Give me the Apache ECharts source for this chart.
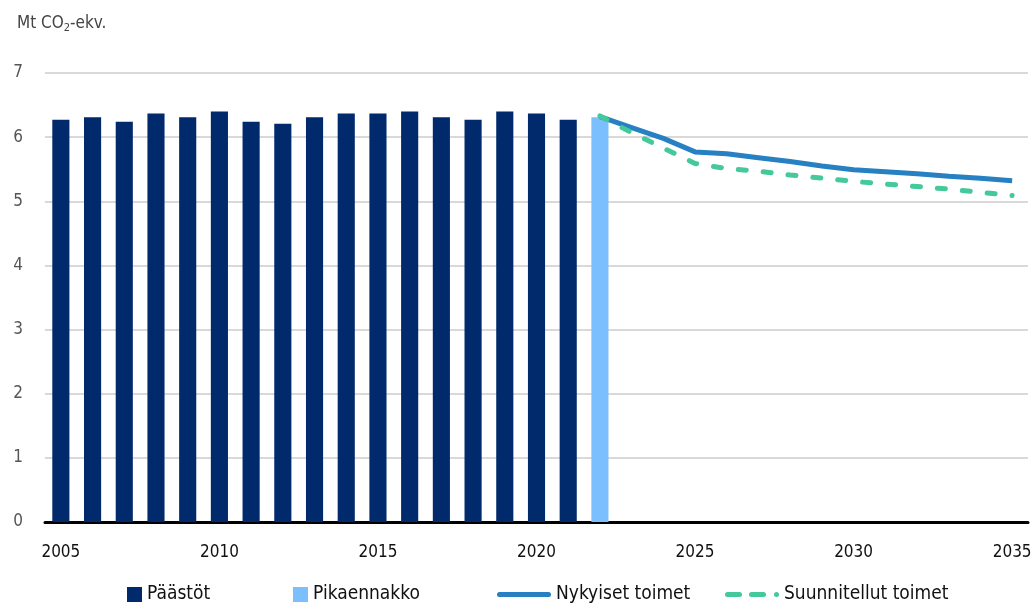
<!DOCTYPE html>
<html>
<head>
<meta charset="utf-8">
<script src="https://cdn.jsdelivr.net/npm/echarts@6/dist/echarts.min.js"></script>
<style>
  html, body { margin: 0; padding: 0; background: #fff; }
  #chart { width: 1035px; height: 613px; }
</style>
</head>
<body>
<div id="chart"></div>
<script>
var years = [];
for (var y = 2005; y <= 2035; y++) years.push(String(y));

// Päästöt 2005-2021
var paastot = [6.27, 6.31, 6.24, 6.37, 6.31, 6.40, 6.24, 6.21, 6.31, 6.37, 6.37, 6.40, 6.31, 6.27, 6.40, 6.37, 6.27];
// Pikaennakko 2022
var pikaennakko = 6.31;
// 2022-2035
var nykyiset = [6.32, 6.15, 5.98, 5.77, 5.74, 5.68, 5.62, 5.55, 5.49, 5.46, 5.43, 5.39, 5.36, 5.32];
var suunnitellut = [6.33, 6.07, 5.83, 5.59, 5.51, 5.47, 5.41, 5.36, 5.31, 5.27, 5.23, 5.19, 5.14, 5.09];

function pad(arr, before, total) {
  var out = [];
  for (var i = 0; i < total; i++) {
    var j = i - before;
    out.push(j >= 0 && j < arr.length ? arr[j] : null);
  }
  return out;
}

var font = '"Liberation Sans Narrow", "DejaVu Sans Condensed", "Roboto Condensed", sans-serif';
var chart = echarts.init(document.getElementById('chart'));

var legendBase = {
  bottom: 4,
  textStyle: { fontFamily: font, fontSize: 19, color: '#111' },
  itemGap: 10
};

chart.setOption({
  animation: false,
  textStyle: { fontFamily: font },
  title: {
    left: 12,
    top: 8,
    text: '{a|Mt CO}{b|2}{a|-ekv.}',
    textStyle: {
      fontWeight: 'normal',
      rich: {
        a: { fontFamily: font, fontSize: 17, color: '#444', fontWeight: 'normal' },
        b: { fontFamily: font, fontSize: 11, color: '#444', fontWeight: 'normal', padding: [10, 0, 0, 0] }
      }
    }
  },
  grid: { left: 45, right: 7, top: 73, bottom: 91 },
  legend: [
    Object.assign({}, legendBase, { left: 122, data: ['Päästöt'], itemWidth: 15, itemHeight: 15, icon: 'rect' }),
    Object.assign({}, legendBase, { left: 288, data: ['Pikaennakko'], itemWidth: 15, itemHeight: 15, icon: 'rect' }),
    Object.assign({}, legendBase, {
      left: 492, data: ['Nykyiset toimet'], itemWidth: 54, itemHeight: 5,
      icon: 'path://M2.5,0H51.5A2.5,2.5,0,0,1,51.5,5H2.5A2.5,2.5,0,0,1,2.5,0Z'
    }),
    Object.assign({}, legendBase, {
      left: 720, data: ['Suunnitellut toimet'], itemWidth: 54, itemHeight: 5,
      icon: 'path://M2.5,0H14.5A2.5,2.5,0,0,1,14.5,5H2.5A2.5,2.5,0,0,1,2.5,0Z' +
        'M26.5,0H38.5A2.5,2.5,0,0,1,38.5,5H26.5A2.5,2.5,0,0,1,26.5,0Z' +
        'M51.5,0A2.5,2.5,0,0,1,51.5,5A2.5,2.5,0,0,1,51.5,0Z'
    })
  ],
  xAxis: {
    type: 'category',
    data: years,
    boundaryGap: true,
    axisLine: { lineStyle: { color: '#000', width: 3 } },
    axisTick: { show: false },
    axisLabel: { interval: 4, margin: 22, fontSize: 17, color: '#111', fontFamily: font }
  },
  yAxis: {
    type: 'value',
    min: 0,
    max: 7,
    interval: 1,
    axisLine: { show: false },
    axisTick: { show: false },
    axisLabel: { fontSize: 17, color: '#555', margin: 22, fontFamily: font },
    splitLine: { lineStyle: { color: '#d9d9d9', width: 2 } }
  },
  series: [
    {
      name: 'Päästöt',
      type: 'bar',
      stack: 'b',
      barWidth: '54%',
      itemStyle: { color: '#002a6c' },
      data: pad(paastot, 0, years.length)
    },
    {
      name: 'Pikaennakko',
      type: 'bar',
      stack: 'b',
      barWidth: '54%',
      itemStyle: { color: '#7bbfff' },
      data: pad([pikaennakko], 17, years.length)
    },
    {
      name: 'Nykyiset toimet',
      type: 'line',
      showSymbol: false,
      symbol: 'none',
      lineStyle: { color: '#2680c2', width: 5 },
      itemStyle: { color: '#2680c2' },
      data: pad(nykyiset, 17, years.length),
      z: 3
    },
    {
      name: 'Suunnitellut toimet',
      type: 'line',
      showSymbol: false,
      symbol: 'none',
      lineStyle: { color: '#44c99a', width: 5, type: [8, 17], cap: 'round' },
      itemStyle: { color: '#44c99a' },
      data: pad(suunnitellut, 17, years.length),
      z: 4
    }
  ]
});
</script>
</body>
</html>
